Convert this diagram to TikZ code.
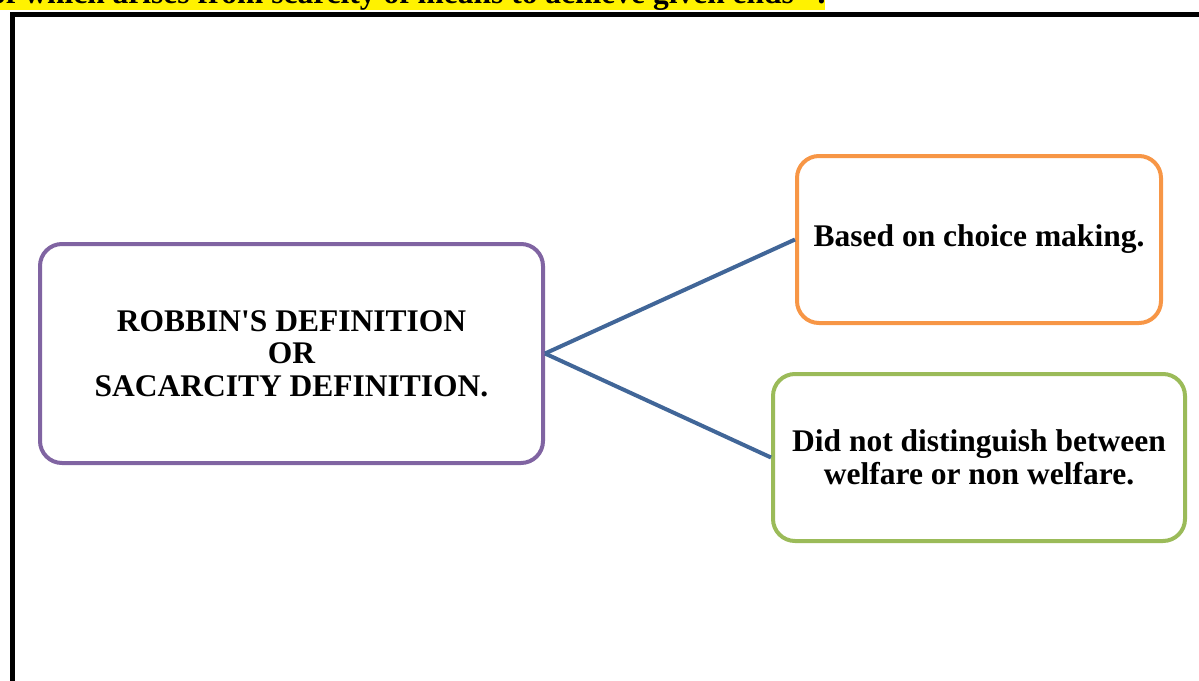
\documentclass[tikz,border=0pt]{standalone}
\usepackage{fontspec}
\setmainfont{Liberation Serif}
\begin{document}
\begin{tikzpicture}[x=1pt,y=-1pt,
  box/.style={draw, line width=4pt, rounded corners=22pt, fill=white,
    align=center, font=\bfseries\fontsize{31.5}{32.5}\selectfont, inner sep=0pt},
  link/.style={draw=linkblue, line width=4pt}]
  \definecolor{boxpurple}{RGB}{128,100,162}
  \definecolor{boxorange}{RGB}{247,150,70}
  \definecolor{boxgreen}{RGB}{155,187,89}
  \definecolor{linkblue}{RGB}{65,102,152}
  \useasboundingbox (0,0) rectangle (1199,680);
  \clip (0,0) rectangle (1199,680);
  % highlighted line of text running above the frame
  \node[anchor=base west, fill=yellow, inner sep=0pt, text depth=6pt,
    font=\bfseries\fontsize{31.5}{34}\selectfont] (quote) at (-10,4)
    {of which arises from scarcity of means to achieve given ends" .\hspace{8pt}};
  % outer frame
  \draw[line width=5pt] (12,14) rectangle (1260,740);
  % boxes
  \node[box, draw=boxpurple, minimum width=503pt, minimum height=219pt] (robbins)
    at (291.5,353.5) {ROBBIN\textquotesingle S DEFINITION\\OR\\SACARCITY DEFINITION.};
  \node[box, draw=boxorange, minimum width=364pt, minimum height=167pt] (choice)
    at (979,239.5) {Based on choice making.};
  \node[box, draw=boxgreen, minimum width=412pt, minimum height=167pt] (welfare)
    at (979,457.5) {Did not distinguish between\\welfare or non welfare.};
  % connectors
  \draw[link] (robbins.east) -- (choice.west);
  \draw[link] (robbins.east) -- (welfare.west);
\end{tikzpicture}
\end{document}
